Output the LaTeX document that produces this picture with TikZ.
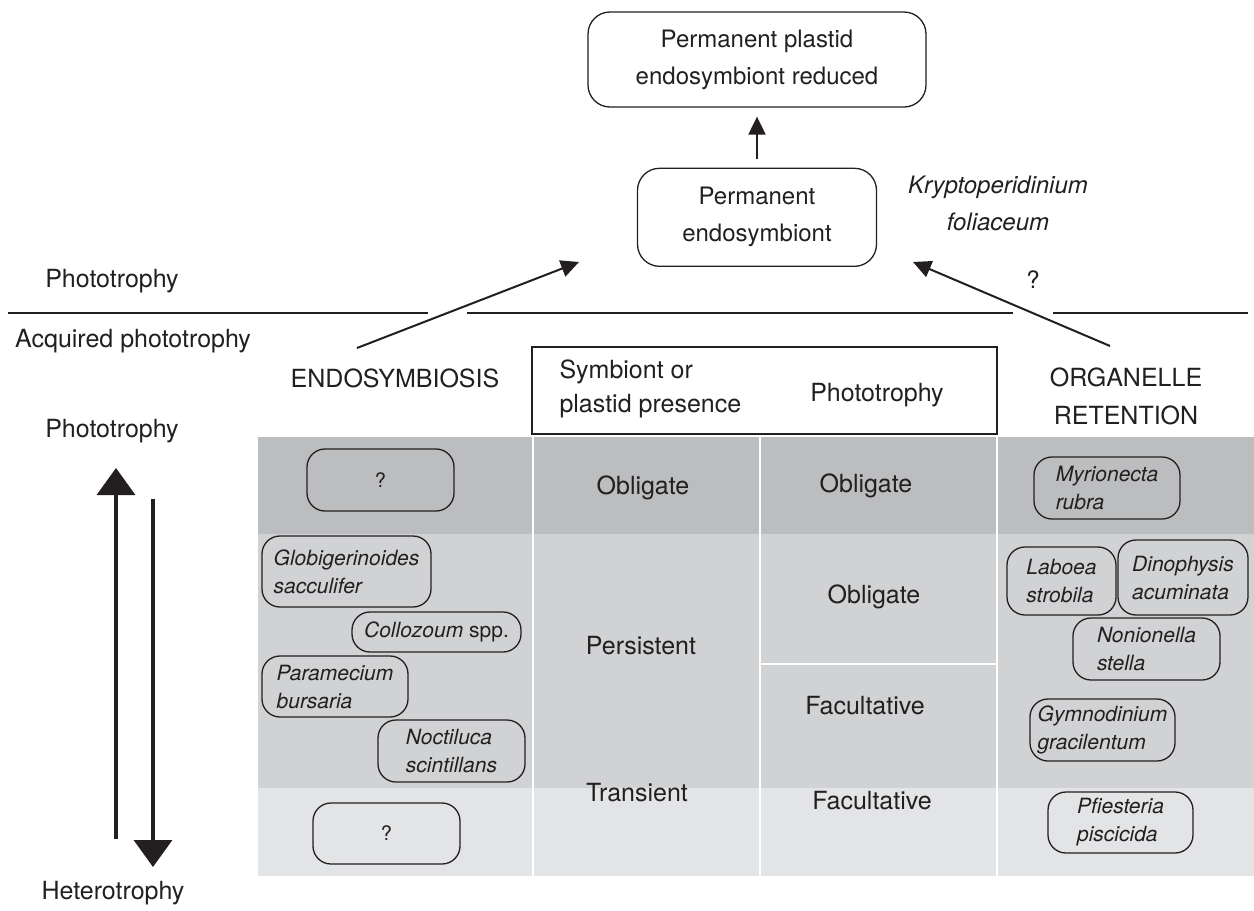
\documentclass[tikz,border=0pt]{standalone}
\usepackage{fontspec}
\setmainfont{TeX Gyre Heros}
\usepackage{xcolor}
\usetikzlibrary{arrows.meta,positioning}
\definecolor{rowdark}{RGB}{188,189,191}
\definecolor{rowmid}{RGB}{209,210,212}
\definecolor{rowlight}{RGB}{227,228,230}
\definecolor{ink}{RGB}{35,31,32}

\begin{document}
\begin{tikzpicture}[
    x=1pt, y=-1pt,
    node distance=60pt,
    every node/.style={text=ink},
    stage/.style={draw=ink, line width=1.3pt, rounded corners=22pt, align=center, font=\fontsize{24}{37}\selectfont},
    taxon/.style={draw=ink, line width=1.3pt, rounded corners=18pt, inner sep=0pt, align=left, font=\fontsize{21}{28}\selectfont\itshape},
    txt/.style={font=\fontsize{25}{38}\selectfont, align=center},
    arrow/.style={-{Triangle[length=18pt,width=17pt]}, draw=ink, line width=2pt},
    bigarrow/.style={-{Triangle[length=27pt,width=38pt]}, draw=ink, line width=3.5pt},
    rule/.style={draw=ink, line width=2.5pt},
    divider/.style={draw=white, line width=2pt}
]
    \useasboundingbox (0,0) rectangle (1254,911);

    % Shaded rows of the table
    \fill[rowdark] (258,437) rectangle (1254,534);
    \fill[rowmid] (258,534) rectangle (1254,788);
    \fill[rowlight] (258,788) rectangle (1254,876);
    \draw[divider] (533,434) -- (533,876);
    \draw[divider] (760,434) -- (760,876);
    \draw[divider] (997,434) -- (997,876);
    \draw[divider] (760,664) -- (997,664);

    % Column header
    \node[draw=ink, line width=1.5pt, fill=white, minimum width=465pt, minimum height=87pt, inner sep=0pt] (header) at (764.5,390.5) {};
    \node[txt, align=left, anchor=west, font=\fontsize{25}{34}\selectfont] (presence) at (556,389) {Symbiont or\\plastid presence};
    \node[txt] (phothead) at (877,395) {Phototrophy};

    % Table cells
    \node[txt] (obl1) at (643,488) {Obligate};
    \node[txt] (obl2) at (866,486) {Obligate};
    \node[txt] (obl3) at (874,597) {Obligate};
    \node[txt] (persist) at (641,646) {Persistent};
    \node[txt] (fac1) at (865,706) {Facultative};
    \node[txt] (trans) at (637,793) {Transient};
    \node[txt] (fac2) at (872,801) {Facultative};

    % Endosymbiosis examples
    \node[taxon, font=\fontsize{20}{24}\selectfont, minimum width=147pt, minimum height=62pt] (qtop) at (380.5,480) {?};
    \node[taxon, minimum width=169pt, minimum height=71pt] (globi) at (346.5,571.5) {Globigerinoides\\sacculifer};
    \node[taxon, minimum width=169pt, minimum height=40pt] (colloz) at (436.5,632) {Collozoum \upshape spp.};
    \node[taxon, minimum width=146pt, minimum height=61pt] (param) at (335,686.5) {Paramecium\\bursaria};
    \node[taxon, minimum width=147pt, minimum height=62pt] (noct) at (451.5,751) {Noctiluca\\scintillans};
    \node[taxon, font=\fontsize{20}{24}\selectfont, minimum width=147pt, minimum height=61pt] (qbot) at (386.5,833.5) {?};

    % Organelle retention examples
    \node[taxon, minimum width=146pt, minimum height=62pt] (myrio) at (1107,488) {Myrionecta\\rubra};
    \node[taxon, minimum width=109pt, minimum height=68pt] (laboea) at (1061.5,581) {Laboea\\strobila};
    \node[taxon, minimum width=130pt, minimum height=75pt] (dino) at (1183,577.5) {Dinophysis\\acuminata};
    \node[taxon, minimum width=147pt, minimum height=62pt] (nonio) at (1146.5,649) {Nonionella\\stella};
    \node[taxon, minimum width=145pt, minimum height=62pt] (gymno) at (1102.5,730) {Gymnodinium\\gracilentum};
    \node[taxon, minimum width=145pt, minimum height=61pt] (pfies) at (1120.5,822.5) {Pfiesteria\\piscicida};

    % Permanent stages
    \node[stage, minimum width=338pt, minimum height=95pt] (plastid) at (757,59.5) {Permanent plastid\\endosymbiont reduced};
    \node[stage, minimum width=239pt, minimum height=98pt, below=60pt of plastid] (perm) {Permanent\\endosymbiont};
    \draw[arrow, shorten <=9pt, shorten >=9pt] (perm) -- (plastid);
    \node[txt, font=\fontsize{24}{37}\selectfont\itshape] (krypto) at (998,203) {Kryptoperidinium\\foliaceum};
    \node[txt, font=\fontsize{24}{28}\selectfont] (unknown) at (1033,280) {?};

    % Side labels
    \node[txt] (photo1) at (112,281) {Phototrophy};
    \node[txt] (acquired) at (133,341) {Acquired phototrophy};
    \node[txt] (photo2) at (112,431) {Phototrophy};
    \node[txt] (hetero) at (113,893) {Heterotrophy};
    \node[txt] (endo) at (395,378) {ENDOSYMBIOSIS};
    \node[txt] (organ) at (1126,396) {ORGANELLE\\RETENTION};

    % Boundary of acquired phototrophy
    \draw[rule] (8,313) -- (428,313);
    \draw[rule] (467,313) -- (1013,313);
    \draw[rule] (1053,313) -- (1248,313);

    % Routes to a permanent endosymbiont
    \coordinate (endotail) at (357,348);
    \coordinate (endotip) at (579,262);
    \coordinate (organtail) at (1110,346);
    \coordinate (organtip) at (913,262);
    \draw[arrow] (endotail) -- (endotip);
    \draw[arrow] (organtail) -- (organtip);

    % Gradient between phototrophy and heterotrophy
    \coordinate (uplow) at (116,839);
    \coordinate (uphigh) at (116,468);
    \coordinate (downhigh) at (153,499);
    \coordinate (downlow) at (153,867);
    \draw[bigarrow] (uplow) -- (uphigh);
    \draw[bigarrow] (downhigh) -- (downlow);

\end{tikzpicture}
\end{document}
